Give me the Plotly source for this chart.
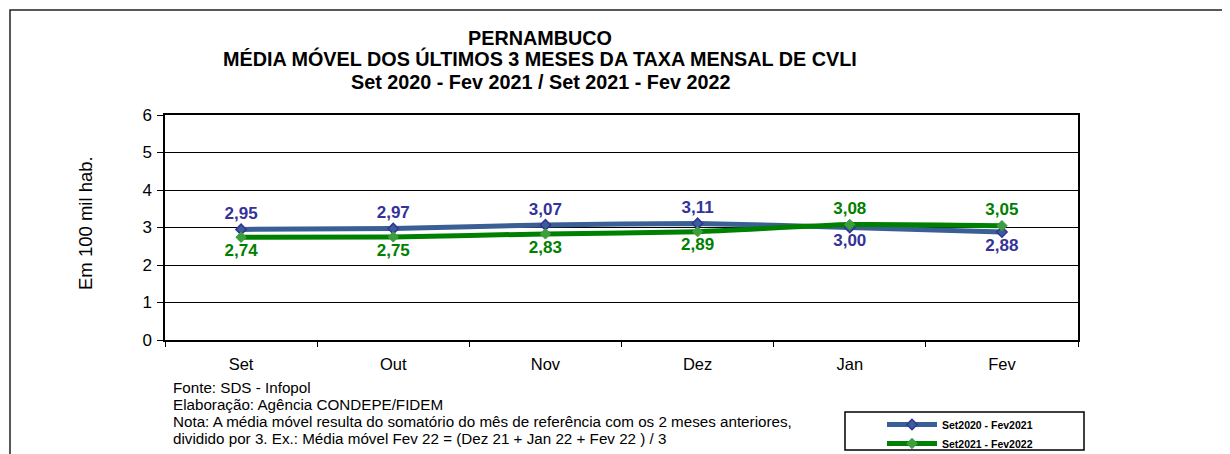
import plotly.graph_objects as go

meses = ["Set", "Out", "Nov", "Dez", "Jan", "Fev"]
serie_2020 = [2.95, 2.97, 3.07, 3.11, 3.00, 2.88]
serie_2021 = [2.74, 2.75, 2.83, 2.89, 3.08, 3.05]
nome_2020 = "Set2020 - Fev2021"
nome_2021 = "Set2021 - Fev2022"
y_ticks = [0, 1, 2, 3, 4, 5, 6]

OFF = 8  # default page body margin
W, H = 1230 - OFF, 454 - OFF
L, R, T, B = 165, 1078, 115, 340  # plot area in screen pixels

FONT = "Liberation Sans, Arial"

def px_x(p):
    return (p - L) / (R - L)

def px_y(p):
    return (B - p) / (B - T)

def fmt(v):
    return f"{v:.2f}".replace(".", ",")

pos_2020 = ["top center" if a >= b else "bottom center" for a, b in zip(serie_2020, serie_2021)]
pos_2021 = ["bottom center" if a >= b else "top center" for a, b in zip(serie_2020, serie_2021)]

fig = go.Figure()
fig.add_trace(go.Scatter(
    x=meses, y=serie_2020, name=nome_2020, mode="lines+markers+text",
    line=dict(color="#3A5F94", width=5, shape="spline", smoothing=0.5),
    marker=dict(symbol="diamond", size=8, color="#3A5F94", line=dict(color="#333399", width=1.5)),
    text=[fmt(v) for v in serie_2020], textposition=pos_2020,
    textfont=dict(family=FONT, size=17, color="#333399", weight="bold"),
))
fig.add_trace(go.Scatter(
    x=meses, y=serie_2021, name=nome_2021, mode="lines+markers+text",
    line=dict(color="#008000", width=5, shape="spline", smoothing=0.5),
    marker=dict(symbol="diamond", size=8, color="#3C9E3C", line=dict(color="#3C9E3C", width=1)),
    text=[fmt(v) for v in serie_2021], textposition=pos_2021,
    textfont=dict(family=FONT, size=17, color="#008000", weight="bold"),
))

fig.update_layout(
    width=W, height=H,
    margin=dict(l=L - OFF, r=1230 - R, t=T - OFF, b=454 - B, autoexpand=False),
    paper_bgcolor="white", plot_bgcolor="white",
    font=dict(family=FONT, color="black"),
    showlegend=True,
    legend=dict(
        x=px_x(882), y=px_y(410), xanchor="left", yanchor="top",
        bgcolor="rgba(0,0,0,0)", borderwidth=0,
        font=dict(size=10.5, weight="bold", family=FONT),
        itemwidth=50, tracegroupgap=0,
    ),
)
fig.update_xaxes(
    type="category", tickson="boundaries", ticks="outside", ticklen=5,
    tickcolor="black", showline=True, linecolor="black", linewidth=1.5,
    mirror=True, showgrid=False, tickfont=dict(size=16.5),
    range=[-0.5, 5.5], ticklabelstandoff=8,
)
fig.update_yaxes(
    range=[0, 6], tickvals=y_ticks, ticks="outside", ticklen=6, tickcolor="black",
    showline=True, linecolor="black", linewidth=1.5, mirror=True,
    showgrid=True, gridcolor="black", gridwidth=1, zeroline=False,
    tickfont=dict(size=17), ticklabelstandoff=2,
)

# y-axis title
fig.add_annotation(
    text="Em 100 mil hab.", xref="paper", yref="paper", x=px_x(85), y=px_y(223),
    xanchor="center", yanchor="middle", textangle=-90, showarrow=False,
    font=dict(size=18.5, family=FONT),
)

titulos = [
    ("PERNAMBUCO", 38),
    ("MÉDIA MÓVEL DOS ÚLTIMOS 3 MESES DA TAXA MENSAL DE CVLI", 59),
    ("Set 2020 - Fev 2021 / Set 2021 - Fev 2022", 82),
]
for txt, cy in titulos:
    fig.add_annotation(
        text=txt, xref="paper", yref="paper", x=px_x(540), y=px_y(cy),
        xanchor="center", yanchor="middle", showarrow=False,
        font=dict(size=19.8, weight="bold", family=FONT),
    )

notas = [
    "Fonte: SDS - Infopol",
    "Elaboração: Agência CONDEPE/FIDEM",
    "Nota: A média móvel resulta do somatório do mês de referência com os 2 meses anteriores,",
    "dividido por 3. Ex.: Média móvel Fev 22 = (Dez 21 + Jan 22 + Fev 22 ) / 3",
]
for i, linha in enumerate(notas):
    fig.add_annotation(
        text=linha, xref="paper", yref="paper", x=px_x(171), y=px_y(387 + 17 * i),
        xanchor="left", yanchor="middle", align="left", showarrow=False,
        font=dict(size=15.2, family=FONT),
    )

# outer frame
fig.add_shape(type="rect", xref="paper", yref="paper",
              x0=px_x(10), y0=px_y(470), x1=px_x(1245), y1=px_y(10),
              line=dict(color="#222222", width=1.5), fillcolor="rgba(0,0,0,0)", layer="below")
# legend box
fig.add_shape(type="rect", xref="paper", yref="paper",
              x0=px_x(845), y0=px_y(450), x1=px_x(1084), y1=px_y(412),
              line=dict(color="black", width=1.5), fillcolor="rgba(0,0,0,0)")

fig.write_html("out.html")
